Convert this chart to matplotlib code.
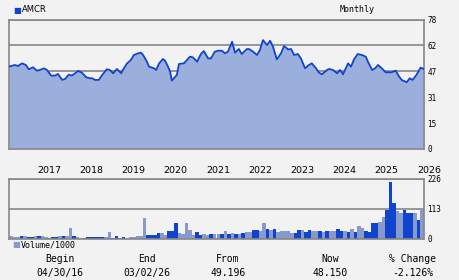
import matplotlib
matplotlib.use("Agg")
import matplotlib.pyplot as plt
import numpy as np
import pandas as pd

# %% data
# monthly close (decimal year, price)
price_t = [2016.33, 2016.47, 2016.54, 2016.64, 2016.73, 2016.80, 2016.90, 2016.99,
           2017.06, 2017.16, 2017.23, 2017.33, 2017.42, 2017.49, 2017.59, 2017.66,
           2017.75, 2017.82, 2017.97, 2018.06, 2018.16, 2018.25, 2018.30, 2018.37,
           2018.46, 2018.54, 2018.65, 2018.72, 2018.80, 2018.89, 2018.99, 2019.03,
           2019.13, 2019.22, 2019.29, 2019.39, 2019.46, 2019.51, 2019.60, 2019.65,
           2019.77, 2019.82, 2019.89, 2019.98, 2020.03, 2020.10, 2020.15, 2020.19,
           2020.31, 2020.36, 2020.48, 2020.62, 2020.69, 2020.79, 2020.88, 2020.95,
           2021.05, 2021.12, 2021.21, 2021.29, 2021.38, 2021.45, 2021.52, 2021.62,
           2021.69, 2021.78, 2021.85, 2021.97, 2022.02, 2022.12, 2022.21, 2022.28,
           2022.35, 2022.45, 2022.52, 2022.59, 2022.68, 2022.78, 2022.85, 2022.95,
           2023.02, 2023.09, 2023.18, 2023.25, 2023.35, 2023.44, 2023.51, 2023.61,
           2023.68, 2023.75, 2023.87, 2023.92, 2024.01, 2024.11, 2024.18, 2024.25,
           2024.37, 2024.44, 2024.51, 2024.60, 2024.70, 2024.79, 2024.84, 2024.94,
           2025.01, 2025.08, 2025.17, 2025.26, 2025.40, 2025.50, 2025.57, 2025.64,
           2025.76, 2025.83, 2025.90, 2025.99, 2026.09, 2026.17]
price = [49.6, 50.6, 50.0, 51.6, 50.6, 48.0, 49.2, 47.2,
         47.6, 48.6, 47.6, 44.2, 44.2, 45.2, 41.6, 42.2,
         44.8, 44.2, 47.0, 46.0, 43.2, 42.6, 42.6, 41.6,
         41.6, 44.6, 48.0, 47.6, 45.6, 48.2, 45.6, 47.6,
         51.6, 53.6, 56.6, 57.6, 58.0, 56.6, 52.6, 49.6,
         48.6, 47.6, 51.6, 54.2, 53.2, 49.6, 46.6, 41.2,
         44.6, 51.2, 51.6, 55.6, 55.2, 52.6, 57.2, 59.0,
         54.6, 54.6, 58.6, 59.2, 59.2, 57.6, 58.6, 64.6,
         58.0, 60.2, 57.2, 60.2, 60.2, 58.6, 56.6, 59.6,
         65.6, 62.6, 65.2, 61.6, 54.0, 57.6, 62.0, 60.0,
         60.2, 56.6, 57.2, 54.6, 48.6, 50.6, 51.6, 48.6,
         46.0, 45.0, 47.6, 48.2, 47.6, 45.6, 47.6, 45.0,
         51.6, 49.6, 54.0, 57.2, 56.6, 55.6, 52.6, 47.6,
         48.6, 50.6, 48.6, 46.2, 46.2, 47.2, 44.0, 41.6,
         40.2, 42.6, 41.6, 44.6, 49.0, 48.15]

# monthly volume (thousands) from May 2016, and whether the month closed up
volume = [12.6, 8.8, 8.8, 12.6, 12.6, 8.8, 8.8, 12.6, 12.6, 12.6,
          8.8, 5, 8.8, 8.8, 12.6, 12.6, 12.6, 40.6, 12.6, 8.8,
          5, 5, 8.8, 8.8, 8.8, 8.8, 8.8, 8.8, 28, 5,
          12.6, 5, 8.8, 5, 8.8, 8.8, 12.6, 12.6, 79, 16.5,
          16.5, 16.5, 24, 24, 16.5, 32, 32, 62, 24, 20,
          60, 33, 16.5, 28, 16.5, 20, 16.5, 20, 20, 20,
          20, 29, 18, 23, 18, 18, 23, 27, 27, 33,
          33, 30, 61, 37, 33, 37, 27, 29, 29, 29,
          23, 23, 33, 33, 27, 33, 29, 29, 29, 27,
          29, 29, 29, 39, 29, 29, 27, 38, 27, 48,
          43, 29, 27, 61, 61, 65, 84, 109, 215, 135,
          107, 99, 109, 97, 97, 99, 71, 116, 116]
vol_up = [0, 0, 0, 1, 0, 1, 1, 0, 1, 0,
          0, 1, 1, 1, 0, 1, 0, 0, 1, 0,
          0, 1, 1, 1, 1, 1, 1, 0, 0, 1,
          1, 0, 1, 0, 0, 0, 0, 0, 0, 1,
          1, 1, 1, 0, 0, 1, 1, 1, 0, 0,
          0, 0, 0, 1, 1, 0, 0, 1, 0, 0,
          1, 0, 1, 0, 1, 0, 1, 0, 0, 1,
          1, 0, 0, 1, 0, 1, 0, 0, 0, 0,
          0, 1, 1, 0, 1, 1, 0, 0, 1, 0,
          1, 0, 0, 1, 1, 0, 1, 0, 1, 0,
          0, 1, 1, 1, 1, 0, 0, 1, 1, 1,
          0, 0, 1, 1, 1, 0, 1, 0, 0]

price_ticks = [0, 15.6, 31.2, 46.8, 62.4, 78]
price_labels = ["0", "15", "31", "47", "62", "78"]
vol_ticks = [0, 113, 226]
years = list(range(2017, 2027))

# %% styles
bg = "#f2f2f2"
dark = "#1144cc"
light = "#8899cc"
fillc = "#9bafdd"
grey = "#888888"
mono = "DejaVu Sans Mono"

fig = plt.figure(figsize=(4.6, 2.8), dpi=100, facecolor=bg)

# %% price panel
ax = fig.add_axes([9 / 460, 1 - 149 / 280, 415 / 460, 129.5 / 280])
ax.set_facecolor(bg)
ax.fill_between(price_t, price, 0, color=fillc, lw=0, zorder=2)
ax.plot(price_t, price, color=dark, lw=1.3, zorder=3)
ax.set_xlim(2016.33, 2026.17)
ax.set_ylim(0, 78)
ax.set_yticks(price_ticks)
ax.set_yticklabels(price_labels, fontsize=5.5, family=mono)
ax.yaxis.tick_right()
ax.tick_params(axis="y", length=0, pad=2.5)
ax.grid(axis="y", color=grey, lw=1.2, zorder=1)
ax.set_xticks(years)
ax.set_xticklabels([str(y) for y in years], fontsize=6.8, ha="left")
ax.tick_params(axis="x", length=0, pad=12)
for s in ax.spines.values():
    s.set_color(grey)
    s.set_linewidth(1.2)

# %% volume panel
vol_dates = pd.date_range("2016-05-01", periods=len(volume), freq="MS")
vol_x = [d.year + (d.month - 1) / 12 for d in vol_dates]
vol_col = [dark if u else light for u in vol_up]
axv = fig.add_axes([9 / 460, 1 - 239 / 280, 415 / 460, 60 / 280])
axv.set_facecolor(bg)
axv.bar(vol_x, volume, width=1 / 12, align="edge", color=vol_col, lw=0, zorder=2)
axv.set_xlim(2016.33, 2026.17)
axv.set_ylim(0, 226)
axv.set_yticks(vol_ticks)
axv.set_yticklabels([str(v) for v in vol_ticks], fontsize=5.5, family=mono)
axv.yaxis.tick_right()
axv.tick_params(axis="y", length=0, pad=2.5)
axv.set_xticks([])
axv.grid(axis="y", color=grey, lw=1.2, zorder=1)
for s in axv.spines.values():
    s.set_color(grey)
    s.set_linewidth(1.2)

# %% header / footer text
fig.text(13 / 460, 1 - 10 / 280, "\u25a0", color=dark, fontsize=6, va="center")
fig.text(22 / 460, 1 - 10 / 280, "AMCR", fontsize=6, va="center")
fig.text(357 / 460, 1 - 9 / 280, "Monthly", fontsize=6, family=mono, ha="center", va="center")
fig.text(12 / 460, 1 - 245 / 280, "\u25a0", color=light, fontsize=6, va="center")
fig.text(21 / 460, 1 - 245 / 280, "Volume/1000", fontsize=6, family=mono, va="center")

footer = [("Begin", "04/30/16", 60), ("End", "03/02/26", 147), ("From", "49.196", 228),
          ("Now", "48.150", 330), ("% Change", "-2.126%", 413)]
for head, val, xc in footer:
    fig.text(xc / 460, 1 - 259 / 280, head, fontsize=7, family=mono, ha="center", va="center")
    fig.text(xc / 460, 1 - 273 / 280, val, fontsize=7, family=mono, ha="center", va="center")

fig.savefig("out.png", dpi=100, facecolor=bg)
